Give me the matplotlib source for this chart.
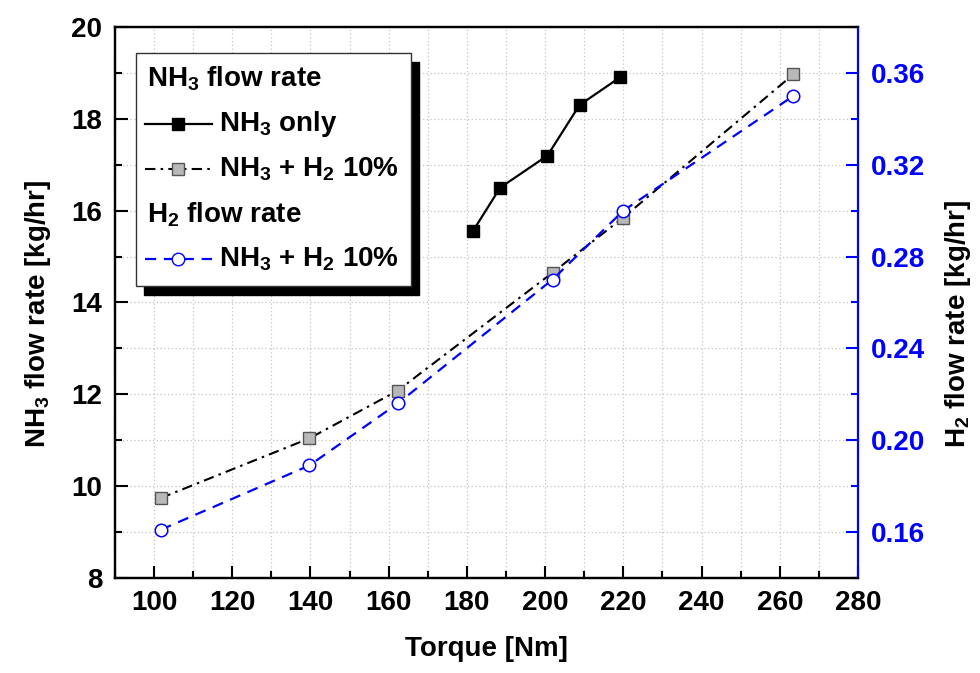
import matplotlib
matplotlib.use("Agg")
import matplotlib.pyplot as plt
from matplotlib.lines import Line2D
from matplotlib.patches import Rectangle
from matplotlib.ticker import MultipleLocator

plt.rcParams["font.family"] = "Liberation Sans"
plt.rcParams["font.weight"] = "bold"
plt.rcParams["axes.labelweight"] = "bold"
plt.rcParams["mathtext.default"] = "regular"

FONT_SIZE = 20
BLUE = "#0000ff"

# data
torque_nh3_only = [181.5, 188.5, 200.6, 208.8, 219.1]
nh3_only = [15.55, 16.50, 17.20, 18.30, 18.90]

torque_blend = [101.7, 139.7, 162.3, 201.9, 220.0, 263.5]
nh3_blend = [9.74, 11.04, 12.08, 14.65, 15.85, 18.97]
h2_blend = [0.161, 0.189, 0.216, 0.270, 0.300, 0.350]

x_ticks = [100, 120, 140, 160, 180, 200, 220, 240, 260, 280]
left_ticks = [8, 10, 12, 14, 16, 18, 20]
right_ticks = [0.16, 0.20, 0.24, 0.28, 0.32, 0.36]

fig = plt.figure(figsize=(9.8, 6.73), dpi=100)
ax = fig.add_axes([0.1173, 0.1412, 0.7582, 0.8187])
ax2 = ax.twinx()

line_style_blend = dict(color="black", linewidth=1.5, linestyle=(0, (5, 2.5, 1.2, 2.5)))

ax.plot(torque_nh3_only, nh3_only, color="black", linewidth=1.6, marker="s",
        markersize=8, markerfacecolor="black", markeredgecolor="black", zorder=4)
ax.plot(torque_blend, nh3_blend, marker="s", markersize=8, markerfacecolor="#b8b8b8",
        markeredgecolor="#555555", markeredgewidth=1.0, zorder=3, **line_style_blend)
ax2.plot(torque_blend, h2_blend, color=BLUE, linewidth=1.6, linestyle=(0, (5, 3.5)),
         marker="o", markersize=9, markerfacecolor="white", markeredgecolor=BLUE,
         markeredgewidth=1.1, zorder=4)

ax.set_xlim(90, 280)
ax.set_ylim(8, 20)
ax2.set_ylim(0.14, 0.38)

ax.set_xticks(x_ticks)
ax.set_yticks(left_ticks)
ax.xaxis.set_minor_locator(MultipleLocator(10))
ax.yaxis.set_minor_locator(MultipleLocator(1))
ax2.set_yticks(right_ticks)
ax2.set_yticklabels([f"{v:.2f}" for v in right_ticks])
ax2.yaxis.set_minor_locator(MultipleLocator(0.02))

ax.grid(True, which="both", color="#c4c4c4", linestyle=(0, (1, 2)), linewidth=0.9)
ax.set_axisbelow(True)

ax.tick_params(axis="both", which="major", direction="in", length=9, width=1.5,
               labelsize=FONT_SIZE, pad=9, top=False, right=False)
ax.tick_params(axis="both", which="minor", direction="in", length=5, width=1.5,
               top=False, right=False)
ax2.tick_params(axis="y", which="major", direction="in", length=9, width=1.5,
                labelsize=FONT_SIZE, pad=9, colors=BLUE, labelcolor=BLUE)
ax2.tick_params(axis="y", which="minor", direction="in", length=5, width=1.5, colors=BLUE)

for name in ["left", "bottom", "top"]:
    ax.spines[name].set_linewidth(1.6)
    ax2.spines[name].set_linewidth(1.6)
ax2.spines["right"].set_color(BLUE)
ax2.spines["right"].set_linewidth(1.6)
ax.spines["right"].set_visible(False)

ax.set_xlabel("Torque [Nm]", fontsize=FONT_SIZE, fontweight="bold", labelpad=14)
ax.set_ylabel("NH$_3$ flow rate [kg/hr]", fontsize=FONT_SIZE, fontweight="bold")
ax2.set_ylabel("H$_2$ flow rate [kg/hr]", fontsize=FONT_SIZE, fontweight="bold",
               color="black")
ax.yaxis.set_label_coords(-0.083, 0.479)
ax2.yaxis.set_label_coords(1.1144, 0.461)

# hand-built legend with two headers and a hard black shadow
box_l, box_b, box_w, box_h = 0.0283, 0.530, 0.370, 0.4234
sx, sy = 8 / 743, 9 / 551
ax.add_patch(Rectangle((box_l + sx, box_b - sy), box_w, box_h, transform=ax.transAxes,
                       facecolor="black", edgecolor="black", zorder=9, clip_on=False))
ax.add_patch(Rectangle((box_l, box_b), box_w, box_h, transform=ax.transAxes,
                       facecolor="white", edgecolor="#333333", linewidth=1.0, zorder=10,
                       clip_on=False))

row_y = [0.9067, 0.8244, 0.7416, 0.6600, 0.5783]
text_x = 0.1406
head_x = 0.0431
h0, h1, hm = 0.0410, 0.1307, 0.0850

ax.text(head_x, row_y[0], "NH$_3$ flow rate", transform=ax.transAxes, fontsize=FONT_SIZE,
        va="center", ha="left", zorder=11)
ax.text(head_x, row_y[3], "H$_2$ flow rate", transform=ax.transAxes, fontsize=FONT_SIZE,
        va="center", ha="left", zorder=11)

ax.add_line(Line2D([h0, h1], [row_y[1]] * 2, transform=ax.transAxes, color="black",
                   linewidth=1.6, zorder=11))
ax.add_line(Line2D([hm], [row_y[1]], transform=ax.transAxes, marker="s", markersize=8,
                   color="black", zorder=12))
ax.text(text_x, row_y[1], "NH$_3$ only", transform=ax.transAxes, fontsize=FONT_SIZE,
        va="center", ha="left", zorder=11)

ax.add_line(Line2D([h0, h1], [row_y[2]] * 2, transform=ax.transAxes, zorder=11,
                   **line_style_blend))
ax.add_line(Line2D([hm], [row_y[2]], transform=ax.transAxes, marker="s", markersize=8,
                   markerfacecolor="#b8b8b8", markeredgecolor="#555555", zorder=12))
ax.text(text_x, row_y[2], "NH$_3$ + H$_2$ 10%", transform=ax.transAxes, fontsize=FONT_SIZE,
        va="center", ha="left", zorder=11)

ax.add_line(Line2D([h0, h1], [row_y[4]] * 2, transform=ax.transAxes, color=BLUE,
                   linewidth=1.6, linestyle=(0, (5, 3.5)), zorder=11))
ax.add_line(Line2D([hm], [row_y[4]], transform=ax.transAxes, marker="o", markersize=9,
                   markerfacecolor="white", markeredgecolor=BLUE, zorder=12))
ax.text(text_x, row_y[4], "NH$_3$ + H$_2$ 10%", transform=ax.transAxes, fontsize=FONT_SIZE,
        va="center", ha="left", zorder=11)

fig.savefig("out.png", dpi=100)
